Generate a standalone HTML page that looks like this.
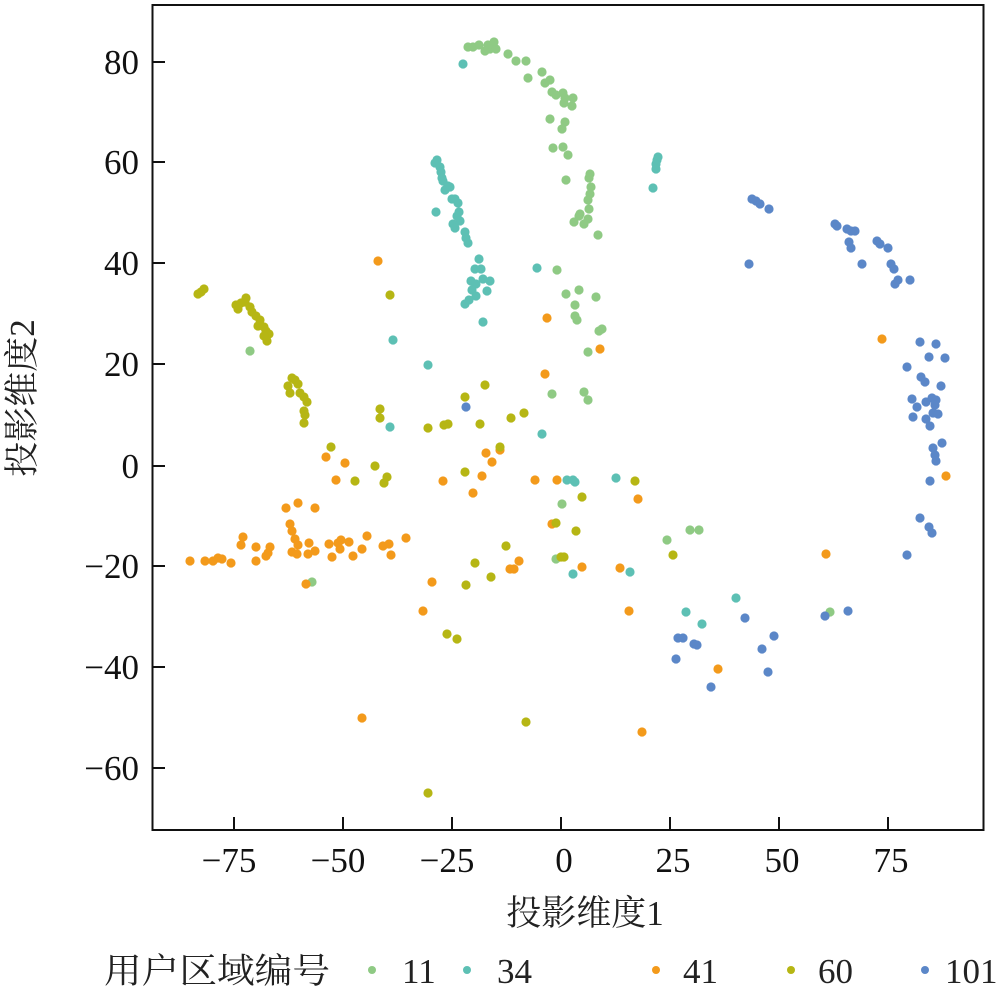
<!DOCTYPE html>
<html><head><meta charset="utf-8"><style>html,body{margin:0;padding:0;background:#fff;}svg{display:block}</style></head>
<body>
<svg width="1000" height="988" viewBox="0 0 1000 988" xmlns="http://www.w3.org/2000/svg">
<rect x="0" y="0" width="1000" height="988" fill="#fff"/>
<g id="pts">
<g fill="#8fca84">
<circle cx="468" cy="47" r="4.6"/><circle cx="473" cy="47" r="4.6"/><circle cx="479" cy="45" r="4.6"/><circle cx="488" cy="45" r="4.6"/><circle cx="494" cy="42" r="4.6"/><circle cx="490" cy="49" r="4.6"/><circle cx="496" cy="49" r="4.6"/><circle cx="485" cy="51" r="4.6"/><circle cx="508" cy="54" r="4.6"/><circle cx="516" cy="61" r="4.6"/><circle cx="526" cy="61" r="4.6"/><circle cx="528" cy="78" r="4.6"/><circle cx="542" cy="72" r="4.6"/><circle cx="545" cy="83" r="4.6"/><circle cx="550" cy="80" r="4.6"/><circle cx="552" cy="92" r="4.6"/><circle cx="556" cy="95" r="4.6"/><circle cx="563" cy="93" r="4.6"/><circle cx="565" cy="98" r="4.6"/><circle cx="564" cy="103" r="4.6"/><circle cx="573" cy="98" r="4.6"/><circle cx="572" cy="106" r="4.6"/><circle cx="550" cy="119" r="4.6"/><circle cx="565" cy="122" r="4.6"/><circle cx="562" cy="129" r="4.6"/><circle cx="553" cy="148" r="4.6"/><circle cx="563" cy="147" r="4.6"/><circle cx="568" cy="155" r="4.6"/><circle cx="566" cy="180" r="4.6"/><circle cx="590" cy="174" r="4.6"/><circle cx="589" cy="178" r="4.6"/><circle cx="591" cy="187" r="4.6"/><circle cx="590" cy="194" r="4.6"/><circle cx="588" cy="200" r="4.6"/><circle cx="589" cy="209" r="4.6"/><circle cx="579" cy="216" r="4.6"/><circle cx="588" cy="219" r="4.6"/><circle cx="574" cy="222" r="4.6"/><circle cx="584" cy="224" r="4.6"/><circle cx="580" cy="214" r="4.6"/><circle cx="598" cy="235" r="4.6"/><circle cx="557" cy="270" r="4.6"/><circle cx="566" cy="294" r="4.6"/><circle cx="579" cy="290" r="4.6"/><circle cx="596" cy="297" r="4.6"/><circle cx="575" cy="305" r="4.6"/><circle cx="575" cy="316" r="4.6"/><circle cx="577" cy="320" r="4.6"/><circle cx="588" cy="352" r="4.6"/><circle cx="599" cy="331" r="4.6"/><circle cx="602" cy="329" r="4.6"/><circle cx="584" cy="392" r="4.6"/><circle cx="588" cy="400" r="4.6"/><circle cx="250" cy="351" r="4.6"/><circle cx="552" cy="394" r="4.6"/><circle cx="562" cy="504" r="4.6"/><circle cx="667" cy="540" r="4.6"/><circle cx="690" cy="530" r="4.6"/><circle cx="699" cy="530" r="4.6"/><circle cx="556" cy="559" r="4.6"/><circle cx="830" cy="612" r="4.6"/><circle cx="312" cy="582" r="4.6"/>
</g>
<g fill="#5dc0b4">
<circle cx="463" cy="64" r="4.6"/><circle cx="435" cy="163" r="4.6"/><circle cx="437" cy="160" r="4.6"/><circle cx="440" cy="167" r="4.6"/><circle cx="441" cy="172" r="4.6"/><circle cx="442" cy="178" r="4.6"/><circle cx="443" cy="181" r="4.6"/><circle cx="448" cy="186" r="4.6"/><circle cx="445" cy="190" r="4.6"/><circle cx="450" cy="187" r="4.6"/><circle cx="452" cy="199" r="4.6"/><circle cx="455" cy="199" r="4.6"/><circle cx="458" cy="203" r="4.6"/><circle cx="459" cy="212" r="4.6"/><circle cx="457" cy="216" r="4.6"/><circle cx="460" cy="221" r="4.6"/><circle cx="436" cy="212" r="4.6"/><circle cx="453" cy="224" r="4.6"/><circle cx="455" cy="228" r="4.6"/><circle cx="465" cy="232" r="4.6"/><circle cx="466" cy="238" r="4.6"/><circle cx="468" cy="243" r="4.6"/><circle cx="479" cy="259" r="4.6"/><circle cx="475" cy="269" r="4.6"/><circle cx="481" cy="269" r="4.6"/><circle cx="471" cy="281" r="4.6"/><circle cx="476" cy="284" r="4.6"/><circle cx="483" cy="279" r="4.6"/><circle cx="490" cy="281" r="4.6"/><circle cx="472" cy="290" r="4.6"/><circle cx="476" cy="296" r="4.6"/><circle cx="487" cy="291" r="4.6"/><circle cx="465" cy="304" r="4.6"/><circle cx="469" cy="300" r="4.6"/><circle cx="483" cy="322" r="4.6"/><circle cx="393" cy="340" r="4.6"/><circle cx="428" cy="365" r="4.6"/><circle cx="537" cy="268" r="4.6"/><circle cx="542" cy="434" r="4.6"/><circle cx="658" cy="157" r="4.6"/><circle cx="657" cy="160" r="4.6"/><circle cx="656" cy="164" r="4.6"/><circle cx="656" cy="169" r="4.6"/><circle cx="653" cy="188" r="4.6"/><circle cx="390" cy="427" r="4.6"/><circle cx="567" cy="480" r="4.6"/><circle cx="573" cy="480" r="4.6"/><circle cx="575" cy="482" r="4.6"/><circle cx="616" cy="478" r="4.6"/><circle cx="630" cy="572" r="4.6"/><circle cx="573" cy="574" r="4.6"/><circle cx="686" cy="612" r="4.6"/><circle cx="702" cy="624" r="4.6"/><circle cx="736" cy="598" r="4.6"/>
</g>
<g fill="#f39a1b">
<circle cx="378" cy="261" r="4.6"/><circle cx="547" cy="318" r="4.6"/><circle cx="545" cy="374" r="4.6"/><circle cx="600" cy="349" r="4.6"/><circle cx="882" cy="339" r="4.6"/><circle cx="326" cy="457" r="4.6"/><circle cx="345" cy="463" r="4.6"/><circle cx="336" cy="480" r="4.6"/><circle cx="443" cy="481" r="4.6"/><circle cx="486" cy="453" r="4.6"/><circle cx="492" cy="462" r="4.6"/><circle cx="500" cy="450" r="4.6"/><circle cx="482" cy="476" r="4.6"/><circle cx="473" cy="493" r="4.6"/><circle cx="535" cy="480" r="4.6"/><circle cx="557" cy="480" r="4.6"/><circle cx="510" cy="569" r="4.6"/><circle cx="514" cy="569" r="4.6"/><circle cx="519" cy="561" r="4.6"/><circle cx="432" cy="582" r="4.6"/><circle cx="423" cy="611" r="4.6"/><circle cx="362" cy="718" r="4.6"/><circle cx="552" cy="524" r="4.6"/>
<circle cx="190" cy="561" r="4.6"/><circle cx="205" cy="561" r="4.6"/><circle cx="213" cy="561" r="4.6"/><circle cx="218" cy="558" r="4.6"/><circle cx="222" cy="559" r="4.6"/><circle cx="231" cy="563" r="4.6"/><circle cx="243" cy="537" r="4.6"/><circle cx="241" cy="545" r="4.6"/><circle cx="256" cy="547" r="4.6"/><circle cx="256" cy="561" r="4.6"/><circle cx="266" cy="556" r="4.6"/><circle cx="268" cy="553" r="4.6"/><circle cx="270" cy="547" r="4.6"/><circle cx="286" cy="508" r="4.6"/><circle cx="298" cy="503" r="4.6"/><circle cx="315" cy="508" r="4.6"/><circle cx="290" cy="524" r="4.6"/><circle cx="292" cy="531" r="4.6"/><circle cx="295" cy="539" r="4.6"/><circle cx="298" cy="545" r="4.6"/><circle cx="292" cy="552" r="4.6"/><circle cx="297" cy="554" r="4.6"/><circle cx="308" cy="554" r="4.6"/><circle cx="309" cy="543" r="4.6"/><circle cx="315" cy="551" r="4.6"/><circle cx="329" cy="544" r="4.6"/><circle cx="332" cy="557" r="4.6"/><circle cx="338" cy="543" r="4.6"/><circle cx="341" cy="540" r="4.6"/><circle cx="340" cy="549" r="4.6"/><circle cx="349" cy="542" r="4.6"/><circle cx="353" cy="556" r="4.6"/><circle cx="362" cy="549" r="4.6"/><circle cx="367" cy="536" r="4.6"/><circle cx="383" cy="546" r="4.6"/><circle cx="389" cy="544" r="4.6"/><circle cx="391" cy="555" r="4.6"/><circle cx="406" cy="538" r="4.6"/><circle cx="306" cy="584" r="4.6"/>
<circle cx="582" cy="567" r="4.6"/><circle cx="620" cy="568" r="4.6"/><circle cx="638" cy="499" r="4.6"/><circle cx="629" cy="611" r="4.6"/><circle cx="718" cy="669" r="4.6"/><circle cx="642" cy="732" r="4.6"/><circle cx="826" cy="554" r="4.6"/><circle cx="946" cy="476" r="4.6"/>
</g>
<g fill="#b6b614">
<circle cx="198" cy="294" r="4.6"/><circle cx="201" cy="292" r="4.6"/><circle cx="204" cy="289" r="4.6"/><circle cx="236" cy="305" r="4.6"/><circle cx="238" cy="309" r="4.6"/><circle cx="241" cy="303" r="4.6"/><circle cx="245" cy="302" r="4.6"/><circle cx="246" cy="298" r="4.6"/><circle cx="250" cy="307" r="4.6"/><circle cx="252" cy="312" r="4.6"/><circle cx="256" cy="316" r="4.6"/><circle cx="260" cy="320" r="4.6"/><circle cx="258" cy="326" r="4.6"/><circle cx="264" cy="327" r="4.6"/><circle cx="266" cy="331" r="4.6"/><circle cx="269" cy="334" r="4.6"/><circle cx="264" cy="336" r="4.6"/><circle cx="267" cy="341" r="4.6"/><circle cx="292" cy="378" r="4.6"/><circle cx="288" cy="386" r="4.6"/><circle cx="295" cy="380" r="4.6"/><circle cx="298" cy="384" r="4.6"/><circle cx="290" cy="393" r="4.6"/><circle cx="300" cy="393" r="4.6"/><circle cx="304" cy="397" r="4.6"/><circle cx="307" cy="402" r="4.6"/><circle cx="304" cy="411" r="4.6"/><circle cx="305" cy="415" r="4.6"/><circle cx="304" cy="423" r="4.6"/><circle cx="390" cy="295" r="4.6"/><circle cx="380" cy="409" r="4.6"/><circle cx="380" cy="418" r="4.6"/><circle cx="465" cy="397" r="4.6"/><circle cx="485" cy="385" r="4.6"/><circle cx="511" cy="418" r="4.6"/><circle cx="524" cy="413" r="4.6"/><circle cx="480" cy="424" r="4.6"/><circle cx="444" cy="425" r="4.6"/><circle cx="448" cy="424" r="4.6"/><circle cx="428" cy="428" r="4.6"/><circle cx="331" cy="447" r="4.6"/><circle cx="375" cy="466" r="4.6"/><circle cx="355" cy="481" r="4.6"/><circle cx="387" cy="477" r="4.6"/><circle cx="384" cy="483" r="4.6"/><circle cx="465" cy="472" r="4.6"/><circle cx="500" cy="447" r="4.6"/><circle cx="556" cy="523" r="4.6"/><circle cx="561" cy="557" r="4.6"/><circle cx="564" cy="557" r="4.6"/><circle cx="506" cy="546" r="4.6"/><circle cx="475" cy="563" r="4.6"/><circle cx="491" cy="577" r="4.6"/><circle cx="466" cy="585" r="4.6"/><circle cx="447" cy="634" r="4.6"/><circle cx="457" cy="639" r="4.6"/><circle cx="526" cy="722" r="4.6"/><circle cx="428" cy="793" r="4.6"/><circle cx="576" cy="531" r="4.6"/><circle cx="582" cy="497" r="4.6"/><circle cx="635" cy="481" r="4.6"/><circle cx="673" cy="555" r="4.6"/>
</g>
<g fill="#5b87c8">
<circle cx="466" cy="407" r="4.6"/><circle cx="752" cy="199" r="4.6"/><circle cx="756" cy="201" r="4.6"/><circle cx="760" cy="204" r="4.6"/><circle cx="769" cy="209" r="4.6"/><circle cx="835" cy="224" r="4.6"/><circle cx="837" cy="226" r="4.6"/><circle cx="847" cy="229" r="4.6"/><circle cx="851" cy="231" r="4.6"/><circle cx="855" cy="231" r="4.6"/><circle cx="849" cy="242" r="4.6"/><circle cx="851" cy="248" r="4.6"/><circle cx="862" cy="264" r="4.6"/><circle cx="877" cy="241" r="4.6"/><circle cx="880" cy="244" r="4.6"/><circle cx="888" cy="248" r="4.6"/><circle cx="891" cy="264" r="4.6"/><circle cx="894" cy="269" r="4.6"/><circle cx="898" cy="280" r="4.6"/><circle cx="895" cy="284" r="4.6"/><circle cx="910" cy="280" r="4.6"/><circle cx="749" cy="264" r="4.6"/><circle cx="920" cy="342" r="4.6"/><circle cx="936" cy="344" r="4.6"/><circle cx="929" cy="357" r="4.6"/><circle cx="945" cy="358" r="4.6"/><circle cx="907" cy="367" r="4.6"/><circle cx="921" cy="377" r="4.6"/><circle cx="925" cy="382" r="4.6"/><circle cx="941" cy="386" r="4.6"/><circle cx="912" cy="399" r="4.6"/><circle cx="917" cy="407" r="4.6"/><circle cx="926" cy="402" r="4.6"/><circle cx="932" cy="398" r="4.6"/><circle cx="936" cy="400" r="4.6"/><circle cx="935" cy="405" r="4.6"/><circle cx="933" cy="413" r="4.6"/><circle cx="938" cy="414" r="4.6"/><circle cx="913" cy="417" r="4.6"/><circle cx="926" cy="419" r="4.6"/><circle cx="930" cy="426" r="4.6"/><circle cx="942" cy="443" r="4.6"/><circle cx="933" cy="448" r="4.6"/><circle cx="935" cy="455" r="4.6"/><circle cx="936" cy="461" r="4.6"/><circle cx="930" cy="481" r="4.6"/><circle cx="920" cy="518" r="4.6"/><circle cx="929" cy="527" r="4.6"/><circle cx="932" cy="533" r="4.6"/><circle cx="907" cy="555" r="4.6"/><circle cx="825" cy="616" r="4.6"/><circle cx="848" cy="611" r="4.6"/><circle cx="678" cy="638" r="4.6"/><circle cx="683" cy="638" r="4.6"/><circle cx="694" cy="644" r="4.6"/><circle cx="697" cy="645" r="4.6"/><circle cx="676" cy="659" r="4.6"/><circle cx="745" cy="618" r="4.6"/><circle cx="774" cy="636" r="4.6"/><circle cx="762" cy="649" r="4.6"/><circle cx="768" cy="672" r="4.6"/><circle cx="711" cy="687" r="4.6"/>
</g>
</g>
<rect x="152.5" y="5" width="831" height="825" fill="none" stroke="#111" stroke-width="2"/>
<g stroke="#111" stroke-width="2">
<line x1="152" y1="62" x2="165" y2="62"/><line x1="152" y1="162" x2="165" y2="162"/><line x1="152" y1="263" x2="165" y2="263"/><line x1="152" y1="364" x2="165" y2="364"/><line x1="152" y1="466" x2="165" y2="466"/><line x1="152" y1="566" x2="165" y2="566"/><line x1="152" y1="667" x2="165" y2="667"/><line x1="152" y1="768" x2="165" y2="768"/>
<line x1="234" y1="830" x2="234" y2="817"/><line x1="343" y1="830" x2="343" y2="817"/><line x1="452" y1="830" x2="452" y2="817"/><line x1="561" y1="830" x2="561" y2="817"/><line x1="670" y1="830" x2="670" y2="817"/><line x1="779" y1="830" x2="779" y2="817"/><line x1="888" y1="830" x2="888" y2="817"/>
</g>
<g font-family="'Liberation Serif', serif" font-size="35" fill="#111" text-anchor="end">
<text x="139" y="74">80</text><text x="139" y="174">60</text><text x="139" y="275">40</text><text x="139" y="376">20</text><text x="139" y="478">0</text><text x="139" y="578">−20</text><text x="139" y="679">−40</text><text x="139" y="780">−60</text>
</g>
<g font-family="'Liberation Serif', serif" font-size="35" fill="#111" text-anchor="middle">
<text x="229" y="872">−75</text><text x="338" y="872">−50</text><text x="447" y="872">−25</text><text x="564" y="872">0</text><text x="673" y="872">25</text><text x="782" y="872">50</text><text x="891" y="872">75</text>
</g>
<text x="585" y="925" text-anchor="middle" font-family="'Liberation Serif','Noto Serif CJK SC',serif" font-size="35" fill="#222">投影维度1</text>
<text transform="translate(34,398) rotate(-90)" text-anchor="middle" font-family="'Liberation Serif','Noto Serif CJK SC',serif" font-size="35" fill="#222">投影维度2</text>
<g font-family="'Liberation Serif','Noto Serif CJK SC',serif" font-size="35" fill="#222">
<text x="104" y="983" textLength="226" lengthAdjust="spacingAndGlyphs">用户区域编号</text>
<circle cx="372" cy="970" r="4" fill="#8fca84"/><text x="402" y="983">11</text>
<circle cx="467" cy="970" r="4" fill="#5dc0b4"/><text x="497" y="983">34</text>
<circle cx="656" cy="970" r="4" fill="#f39a1b"/><text x="683" y="983">41</text>
<circle cx="791" cy="970" r="4" fill="#b6b614"/><text x="818" y="983">60</text>
<circle cx="925" cy="970" r="4" fill="#5b87c8"/><text x="945" y="983">101</text>
</g>
</svg>
</body></html>
